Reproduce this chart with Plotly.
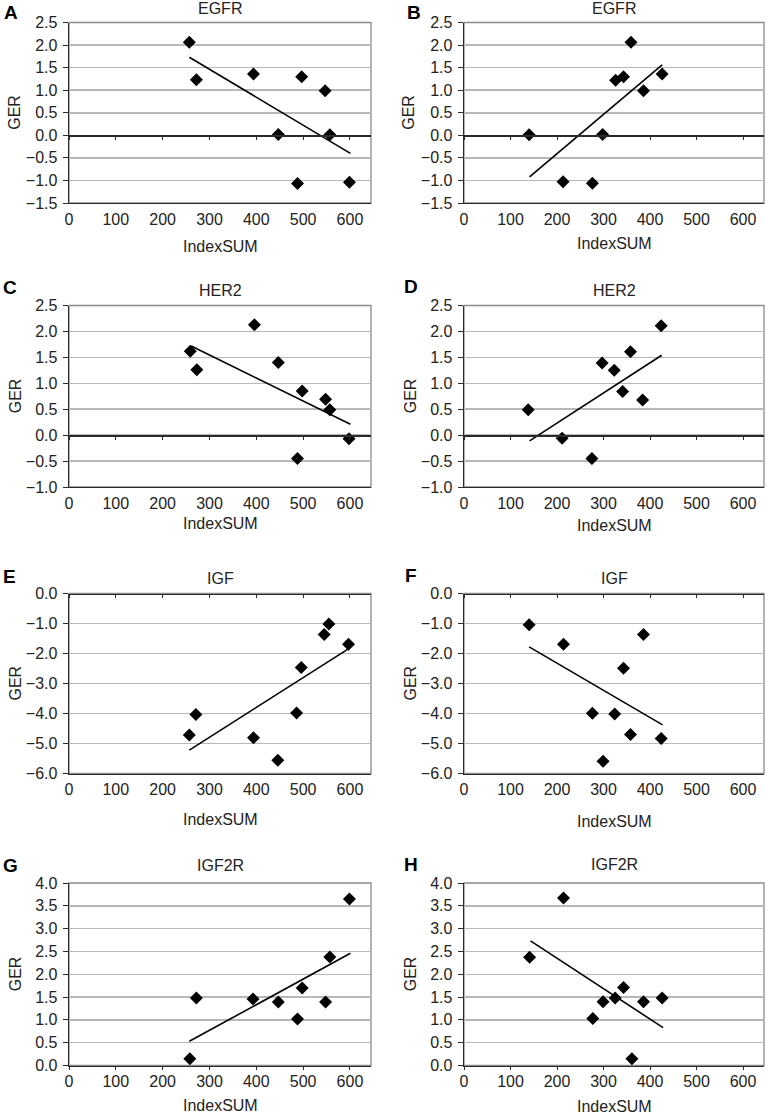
import plotly.graph_objects as go

# page is 768x1119; the default 8px body margin is removed by a small
# post script so that the figure fills the page exactly.
W, H = 768, 1119
FONT = "Liberation Sans, Arial, Helvetica, sans-serif"

# ---------------- data ----------------
letters = ["A", "B", "C", "D", "E", "F", "G", "H"]
titles = ["EGFR", "EGFR", "HER2", "HER2", "IGF", "IGF", "IGF2R", "IGF2R"]

a_x = [257, 272, 394, 447, 488, 497, 547, 557, 599]
a_y = [2.06, 1.23, 1.36, 0.02, -1.07, 1.30, 0.99, 0.01, -1.04]
a_tx = [257, 601]
a_ty = [1.73, -0.40]

b_x = [140, 213, 276, 298, 326, 343, 359, 386, 426]
b_y = [0.01, -1.03, -1.06, 0.02, 1.22, 1.30, 2.06, 0.99, 1.36]
b_tx = [141, 426]
b_ty = [-0.92, 1.56]

c_x = [259, 273, 396, 447, 488, 498, 548, 557, 598]
c_y = [1.62, 1.26, 2.13, 1.40, -0.45, 0.85, 0.69, 0.49, -0.07]
c_tx = [261, 601]
c_ty = [1.72, 0.21]

d_x = [138, 211, 275, 297, 323, 341, 358, 384, 424]
d_y = [0.49, -0.06, -0.45, 1.39, 1.25, 0.84, 1.61, 0.68, 2.11]
d_tx = [141, 425]
d_ty = [-0.11, 1.54]

e_x = [257, 271, 394, 446, 486, 496, 545, 555, 597]
e_y = [-4.72, -4.03, -4.81, -5.56, -3.98, -2.47, -1.37, -1.02, -1.69]
e_tx = [257, 595]
e_ty = [-5.22, -1.86]

f_x = [140, 214, 276, 299, 324, 343, 358, 386, 424]
f_y = [-1.04, -1.69, -3.99, -5.59, -4.02, -2.49, -4.70, -1.37, -4.83]
f_tx = [140, 427]
f_ty = [-1.78, -4.38]

g_x = [258, 272, 393, 447, 488, 498, 548, 557, 599]
g_y = [0.15, 1.48, 1.46, 1.39, 1.02, 1.70, 1.39, 2.38, 3.65]
g_tx = [257, 601]
g_ty = [0.53, 2.46]

h_x = [141, 214, 277, 299, 325, 343, 361, 386, 426]
h_y = [2.37, 3.67, 1.03, 1.40, 1.48, 1.71, 0.15, 1.40, 1.48]
h_tx = [143, 428]
h_ty = [2.73, 0.83]

x_range = [0, 645]
x_dtick = 100
y_ranges = [[-1.5, 2.5], [-1.5, 2.5], [-1.0, 2.5], [-1.0, 2.5],
            [-6.0, 0.0], [-6.0, 0.0], [0.0, 4.0], [0.0, 4.0]]
y_dticks = [0.5, 0.5, 0.5, 0.5, 1.0, 1.0, 0.5, 0.5]

series = [(a_x, a_y, a_tx, a_ty), (b_x, b_y, b_tx, b_ty),
          (c_x, c_y, c_tx, c_ty), (d_x, d_y, d_tx, d_ty),
          (e_x, e_y, e_tx, e_ty), (f_x, f_y, f_tx, f_ty),
          (g_x, g_y, g_tx, g_ty), (h_x, h_y, h_tx, h_ty)]

# ---------------- layout geometry (page pixels) ----------------
col_px = [(69, 371), (464, 764)]
row_px = [(22.5, 203), (305.5, 487), (593.5, 773.5), (883, 1065.5)]
letter_pos = [(10.5, 12.5), (414, 12.5), (10, 287), (411, 286),
              (9, 576), (411, 575), (10, 865), (411, 864)]
title_y = [8.5, 8.5, 290.7, 290.7, 578, 578, 865, 864]
xlab_y = [246.7, 244, 523, 525, 819, 821, 1105, 1106]
ylab_x = [15, 409, 15, 410, 15, 410, 15, 410]


def px(x):
    return x / W


def py(y):
    return 1 - y / H


def sfx(n):
    return "" if n == 1 else str(n)


DARK = "#2a2a2a"
BORDER = "#8a8a8a"
GRID = "#b8b8b8"
TXT = "#222222"

fig = go.Figure()
layout = dict(
    width=W, height=H, autosize=False,
    margin=dict(l=0, r=0, t=0, b=0, autoexpand=False),
    paper_bgcolor="white", plot_bgcolor="white",
    showlegend=False,
    font=dict(family=FONT, color=TXT, size=16),
)
shapes = []
annotations = []

for i in range(8):
    n = sfx(i + 1)
    m = sfx(i + 9)
    col, row = i % 2, i // 2
    l, r = col_px[col]
    t, b = row_px[row]
    xd = [px(l), px(r)]
    yd = [py(b), py(t)]
    yr = y_ranges[i]
    xs, ys, txs, tys = series[i]

    layout[f"xaxis{n}"] = dict(
        domain=xd, range=x_range, anchor=f"y{n}", tick0=0, dtick=x_dtick,
        showgrid=False, zeroline=False, showline=True, linecolor=DARK,
        linewidth=1.3, ticks="", ticklabelstandoff=1, automargin=False,
        tickfont=dict(size=16, family=FONT, color=TXT), fixedrange=True,
    )
    layout[f"yaxis{n}"] = dict(
        domain=yd, range=yr, anchor=f"x{n}", tick0=0, dtick=y_dticks[i],
        tickformat=".1f", showgrid=True, gridcolor=GRID, gridwidth=1.5,
        zeroline=False, showline=True, linecolor=DARK, linewidth=1.4,
        ticks="outside", ticklen=5, tickcolor=DARK, tickwidth=1,
        ticklabelstandoff=2, automargin=False,
        tickfont=dict(size=16, family=FONT, color=TXT), fixedrange=True,
    )
    # horizontal category axis crossing at y = 0 (with tick marks)
    frac = (0 - yr[0]) / (yr[1] - yr[0])
    pos = yd[0] + frac * (yd[1] - yd[0])
    layout[f"xaxis{m}"] = dict(
        domain=xd, range=x_range, overlaying=f"x{n}", anchor="free",
        position=pos, side="bottom", tick0=0, dtick=x_dtick,
        showgrid=False, zeroline=False, showline=True, linecolor=DARK,
        linewidth=1.4, ticks="outside", ticklen=3, tickcolor=DARK,
        showticklabels=False, fixedrange=True, automargin=False,
    )

    fig.add_trace(go.Scatter(
        x=xs, y=ys, mode="markers", xaxis=f"x{n}", yaxis=f"y{n}",
        marker=dict(symbol="diamond", size=10, color="black",
                    line=dict(width=0)),
        hoverinfo="x+y",
    ))
    fig.add_trace(go.Scatter(
        x=txs, y=tys, mode="lines", xaxis=f"x{m}", yaxis=f"y{n}",
        line=dict(color="black", width=1.6), hoverinfo="skip",
    ))

    shapes.append(dict(
        type="rect", xref=f"x{n} domain", yref=f"y{n} domain",
        x0=0, x1=1, y0=0, y1=1, line=dict(color=BORDER, width=1.3),
        layer="below",
    ))

    lx, ly = letter_pos[i]
    annotations.append(dict(
        text=f"<b>{letters[i]}</b>", x=px(lx), y=py(ly), xref="paper",
        yref="paper", xanchor="center", yanchor="middle", showarrow=False,
        font=dict(size=19, family=FONT, color="black"),
    ))
    annotations.append(dict(
        text=titles[i], x=px((l + r) / 2), y=py(title_y[i]), xref="paper",
        yref="paper", xanchor="center", yanchor="middle", showarrow=False,
        font=dict(size=16, family=FONT, color=TXT),
    ))
    annotations.append(dict(
        text="IndexSUM", x=px((l + r) / 2), y=py(xlab_y[i]), xref="paper",
        yref="paper", xanchor="center", yanchor="middle", showarrow=False,
        font=dict(size=16, family=FONT, color=TXT),
    ))
    annotations.append(dict(
        text="GER", x=px(ylab_x[i]), y=py((t + b) / 2), xref="paper",
        yref="paper", xanchor="center", yanchor="middle", showarrow=False,
        textangle=-90, font=dict(size=16, family=FONT, color=TXT),
    ))

layout["shapes"] = shapes
layout["annotations"] = annotations
fig.update_layout(**layout)

fig.write_html(
    "out.html",
    config={"displayModeBar": False, "staticPlot": True},
    post_script="document.body.style.margin='0';"
                "document.documentElement.style.margin='0';"
                "document.body.style.overflow='hidden';",
)
